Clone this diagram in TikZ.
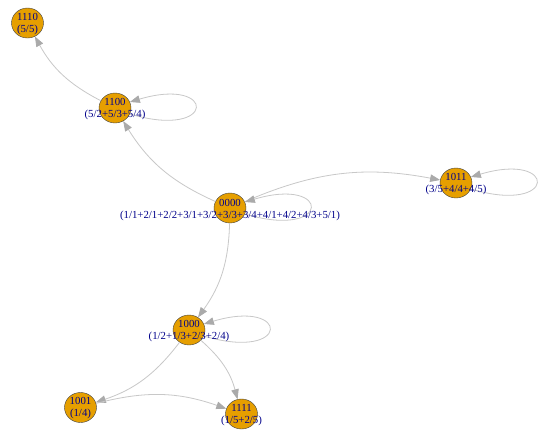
\documentclass[tikz,border=0pt]{standalone}
\usepackage{fontspec}
\setmainfont{Liberation Serif}
\usetikzlibrary{arrows.meta,shapes.geometric}
\definecolor{vfill}{RGB}{230,159,0}
\definecolor{edgegray}{RGB}{200,200,200}
\definecolor{arrowgray}{RGB}{170,170,170}
\definecolor{labblue}{RGB}{0,0,139}
\begin{document}
\begin{tikzpicture}[x=1pt,y=-1pt,
  vtx/.style={ellipse, draw=black!75, line width=0.4pt, fill=vfill, minimum width=32pt, minimum height=30pt, inner sep=0pt},
  lab/.style={align=center, text=labblue, font=\fontsize{10.8}{12.5}\selectfont, inner sep=0pt},
  edg/.style={draw=edgegray, line width=0.8pt, -{Triangle[length=10pt,width=7.5pt,color=arrowgray]}, bend left=17},
  loopedge/.style={draw=edgegray, line width=0.8pt, -{Triangle[length=10pt,width=7.5pt,color=arrowgray]}}]
\fill[white] (0,0) rectangle (541,429);
\useasboundingbox (0,0) rectangle (541,429);
% vertices
\node[vtx] (n1110) at (27.5,23) {};
\node[vtx] (n1100) at (115,108) {};
\node[vtx] (n0000) at (230,208) {};
\node[vtx] (n1011) at (456,183) {};
\node[vtx] (n1000) at (189,330) {};
\node[vtx] (n1001) at (80.5,407.5) {};
\node[vtx] (n1111) at (241.5,414) {};
% edges
\draw[edg] (n1100) to (n1110);
\draw[edg] (n0000) to (n1100);
\draw[edg] (n0000) to (n1011);
\draw[edg] (n0000) to (n1000);
\draw[edg] (n1000) to (n1001);
\draw[edg] (n1000) to (n1111);
\draw[edg] (n1001) to (n1111);
% loops
\draw[loopedge] (n1100.-22) .. controls ([shift={(102,32)}]n1100.center) and ([shift={(102,-32)}]n1100.center) .. (n1100.22);
\draw[loopedge] (n0000.-22) .. controls ([shift={(102,32)}]n0000.center) and ([shift={(102,-32)}]n0000.center) .. (n0000.22);
\draw[loopedge] (n1011.-22) .. controls ([shift={(102,32)}]n1011.center) and ([shift={(102,-32)}]n1011.center) .. (n1011.22);
\draw[loopedge] (n1000.-22) .. controls ([shift={(102,32)}]n1000.center) and ([shift={(102,-32)}]n1000.center) .. (n1000.22);
% labels
\node[lab] (l1110) at (27.5,24) {1110\\(5/5)};
\node[lab] (l1100) at (115,109) {1100\\(5/2+5/3+5/4)};
\node[lab] (l0000) at (230,210) {0000\\(1/1+2/1+2/2+3/1+3/2+3/3+3/4+4/1+4/2+4/3+5/1)};
\node[lab] (l1011) at (456,184) {1011\\(3/5+4/4+4/5)};
\node[lab] (l1000) at (189,331) {1000\\(1/2+1/3+2/3+2/4)};
\node[lab] (l1001) at (80.5,408) {1001\\(1/4)};
\node[lab] (l1111) at (241.5,415) {1111\\(1/5+2/5)};
\end{tikzpicture}
\end{document}
